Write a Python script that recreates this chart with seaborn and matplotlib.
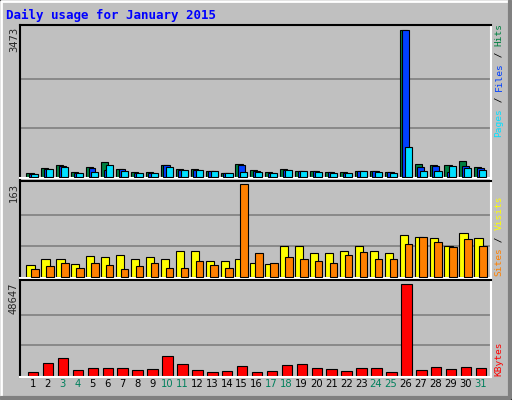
import matplotlib
matplotlib.use("Agg")
import matplotlib.pyplot as plt
from matplotlib.lines import Line2D
import seaborn as sns
import numpy as np
import pandas as pd

days = list(range(1, 32))
weekend = [3, 4, 10, 11, 17, 18, 24, 25, 31]
hits = [79,204,267,102,228,346,181,102,102,275,181,181,134,87,299,157,102,181,134,134,110,102,134,134,110,3473,299,275,275,370,228]
files = [71,189,252,94,197,157,173,94,94,268,165,165,126,79,283,142,94,165,126,126,102,94,126,126,102,3455,236,252,118,252,197]
pages = [55,173,220,79,102,268,126,79,79,220,150,150,126,79,102,102,79,150,126,110,79,79,126,102,79,693,126,126,244,197,150]
visits = [20,31,31,22,36,34,39,31,34,31,45,45,27,27,31,25,22,54,54,41,41,45,54,45,41,73,71,68,55,77,68]
sites = [13,18,24,15,25,20,13,18,24,15,15,27,20,16,163,41,24,34,31,27,24,38,43,31,32,57,70,61,52,67,55]
kbytes = [1770,6545,9200,2830,3890,3890,3890,2830,3360,10260,6015,2830,1770,2300,4950,1770,2300,5480,6015,3890,3360,2300,3890,3890,1770,48647,2830,4420,3360,4420,3890]

sns.set_style("white")
plt.rcParams['font.family'] = ['DejaVu Sans Mono', 'DejaVu Sans']
W, H = 512, 400
fig = plt.figure(figsize=(W/100, H/100), dpi=100, facecolor="#C0C0C0")

def rect(x0, y0, x1, y1):
    return [x0/W, 1-y1/H, (x1-x0)/W, (y1-y0)/H]

# figure bevel
fig.add_artist(Line2D([1/W, 1/W, 1-1/W], [1/H, 1-1/H, 1-1/H], transform=fig.transFigure, color="white", lw=2))
fig.add_artist(Line2D([1/W, 1-2/W, 1-2/W], [2/H, 2/H, 1-1/H], transform=fig.transFigure, color="#808080", lw=3))
fig.add_artist(plt.Rectangle((0, 0), 1, 1, transform=fig.transFigure, fill=False, edgecolor="black", lw=1.5))

fig.text(6/W, 1-15/H, "Daily usage for January 2015", color="#0000FF", fontsize=9,
         fontweight="bold", ha="left", va="center")

XL = (0.15, 31.7)

def setup(ax, top, grid):
    ax.set_facecolor("#C0C0C0")
    ax.set_xlim(*XL)
    for g in grid:
        ax.axhline(g, color="#808080", lw=1.2, zorder=0)
    ax.set_xticks([]); ax.set_yticks([])
    ax.spines['left'].set_color("black"); ax.spines['top'].set_color("black")
    ax.spines['right'].set_color("white"); ax.spines['bottom'].set_color("white")
    for s in ax.spines.values():
        s.set_linewidth(1.5)

d = np.array(days)
ec = dict(edgecolor="black", linewidth=0.8)

ax1 = fig.add_axes(rect(20, 25, 491, 178))
setup(ax1, max(hits), [max(hits)/3, 2*max(hits)/3])
ax1.set_ylim(-30, 3580)
ax1.bar(d - 0.18, hits, width=0.47, align="center", color="#008040", **ec, zorder=2)
ax1.bar(d - 0.02, files, width=0.45, align="center", color="#0040FF", **ec, zorder=3)
ax1.bar(d + 0.15, pages, width=0.47, align="center", color="#00E0FF", **ec, zorder=4)

ax2 = fig.add_axes(rect(20, 180.5, 491, 277.7))
setup(ax2, 163, [163/3, 2*163/3])
ax2.set_ylim(-1.8, 170)
ax2.bar(d - 0.14, visits, width=0.55, color="#FFFF00", **ec, zorder=2)
ax2.bar(d + 0.16, sites, width=0.5, color="#FF8000", **ec, zorder=3)

ax3 = fig.add_axes(rect(20, 280, 491, 376.7))
setup(ax3, 48647, [48647/3, 2*48647/3])
df = pd.DataFrame({"day": d + 0.03, "kb": kbytes})
sns.barplot(data=df, x="day", y="kb", native_scale=True, width=0.7, color="#FF0000",
            saturation=1, edgecolor="black", linewidth=0.8, ax=ax3, zorder=2)
ax3.set_xlim(*XL)
ax3.set_ylim(-530, 50770)
ax3.set_xlabel(""); ax3.set_ylabel("")
ax3.set_xticks([]); ax3.set_yticks([])

# day labels
for dd in days:
    x = 20 + (dd - XL[0]) / (XL[1] - XL[0]) * 471
    fig.text(x/W, 1-384/H, str(dd), fontsize=7.2, ha="center", va="center",
             color="#00805C" if dd in weekend else "black", family="DejaVu Sans")

# left maxima
for val, y in [(3473, 27), (163, 183), (48647, 283)]:
    fig.text(14/W, 1-y/H, str(val), rotation=90, fontsize=7.2, ha="center", va="top",
             family="DejaVu Sans")

# right legends
cw = 5.7
def vlegend(pieces, ybottom):
    off = 0
    for txt, col in pieces:
        fig.text(499/W, 1-(ybottom - off*cw)/H, txt, rotation=90, fontsize=6.8,
                 color=col, ha="center", va="bottom")
        off += len(txt)

vlegend([("Pages", "#00E0FF"), (" / ", "black"), ("Files", "#0040FF"), (" / ", "black"), ("Hits", "#008040")], 137)
vlegend([("Sites", "#FF8000"), (" / ", "black"), ("Visits", "#FFFF00")], 276)
vlegend([("KBytes", "#FF0000")], 376)

fig.savefig("out.png", dpi=100, facecolor=fig.get_facecolor())
